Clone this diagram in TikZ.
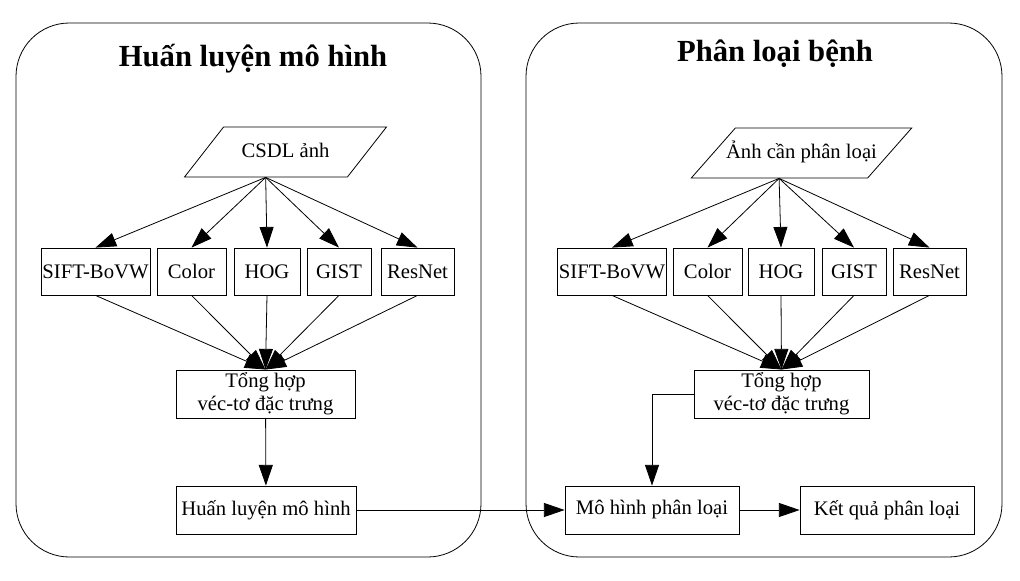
\documentclass[tikz,border=0pt]{standalone}
\usepackage{fontspec}
\setmainfont{Liberation Serif}
\usetikzlibrary{arrows.meta,shapes.geometric,positioning}

\begin{document}
\begin{tikzpicture}[->,>={Triangle[length=15.5pt,width=10.5pt]},x=0.75pt,y=-0.75pt,
                    line width=0.6pt,font=\fontsize{15.5}{17.5}\selectfont]
  \tikzstyle{block}=[draw,rectangle,inner xsep=1pt,inner ysep=2pt,align=center,minimum height=35.25pt]
  \tikzstyle{io}=[draw,trapezium,trapezium left angle=52,trapezium right angle=128,
                  text height=11pt,text depth=3.5pt,inner ysep=11.5pt,inner xsep=13.5pt]
  \tikzstyle{group}=[draw,-,rounded corners=40pt]
  \tikzstyle{heading}=[anchor=base,font=\fontsize{23}{27}\selectfont\bfseries]

  \useasboundingbox (0,0) rectangle (1020,581);

  % khung ngoai
  \draw[group] (16,23) rectangle (481,557);
  \draw[group] (526,23) rectangle (1002,557);
  \node[heading] (T1) at (253,67) {Huấn luyện mô hình};
  \node[heading] (T2) at (775,62) {Phân loại bệnh};

  % huan luyen
  \node[io] (D1) at (285.5,152) {CSDL ảnh};
  \node[block][minimum width=81.75pt] (S1) at (95.5,271.5) {SIFT-BoVW};
  \node[block][minimum width=51.75pt] (C1) at (191.5,271.5) {Color};
  \node[block][minimum width=49.5pt]  (H1) at (267,271.5) {HOG};
  \node[block][minimum width=48pt]    (G1) at (339,271.5) {GIST};
  \node[block][minimum width=54.75pt] (R1) at (417.5,271.5) {ResNet};
  \node[block][minimum width=134.25pt,minimum height=36pt] (V1) at (265.5,394) {Tổng hợp\\véc-tơ đặc trưng};
  \node[block][minimum width=135pt,minimum height=36pt]    (L1) at (266,510) {Huấn luyện mô hình};

  % phan loai
  \node[io][inner xsep=-7pt,trapezium left angle=48.6,trapezium right angle=131.4] (D2) at (801.5,153) {Ảnh cần phân loại};
  \node[block][minimum width=81pt]    (S2) at (612,271.5) {SIFT-BoVW};
  \node[block][minimum width=51.75pt] (C2) at (707.5,271.5) {Color};
  \node[block][minimum width=49.5pt]  (H2) at (781,271.5) {HOG};
  \node[block][minimum width=48pt]    (G2) at (854,271.5) {GIST};
  \node[block][minimum width=54.75pt] (R2) at (929.5,271.5) {ResNet};
  \node[block][minimum width=131.25pt,minimum height=36pt] (V2) at (781.5,394) {Tổng hợp\\véc-tơ đặc trưng};
  \node[block][minimum width=130.5pt,minimum height=36pt]  (M2) at (652,510) {Mô hình phân loại};
  \node[block][minimum width=130.5pt,minimum height=36pt]  (K2) at (887,510) {Kết quả phân loại};

  \path (D1.bottom side) edge (S1.north) edge (C1.north) edge (H1.north) edge (G1.north) edge (R1.north);
  \path (S1.south) edge (V1.north);
  \path (C1.south) edge (V1.north);
  \path (H1.south) edge (V1.north);
  \path (G1.south) edge (V1.north);
  \path (R1.south) edge (V1.north);
  \path (V1) edge (L1);

  \path (D2.bottom side) edge (S2.north) edge (C2.north) edge (H2.north) edge (G2.north) edge (R2.north);
  \path (S2.south) edge (V2.north);
  \path (C2.south) edge (V2.north);
  \path (H2.south) edge (V2.north);
  \path (G2.south) edge (V2.north);
  \path (R2.south) edge (V2.north);
  \draw (V2.west) -| (M2.north);
  \path (L1) edge (M2);
  \path (M2) edge (K2);
\end{tikzpicture}
\end{document}
